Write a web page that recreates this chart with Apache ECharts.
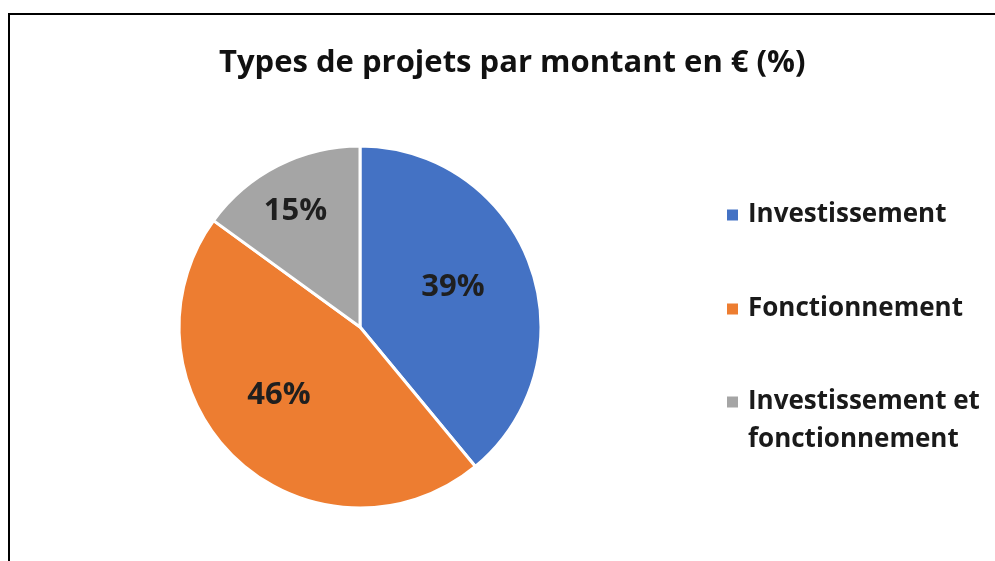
<!DOCTYPE html>
<html>
<head>
<meta charset="utf-8">
<script src="https://cdn.jsdelivr.net/npm/echarts@6/dist/echarts.min.js"></script>
<style>
html, body { margin: 0; padding: 0; background: #fff; }
#main { width: 995px; height: 561px; }
</style>
</head>
<body>
<div id="main"></div>
<script>
var categories = ['Investissement', 'Fonctionnement', 'Investissement et fonctionnement'];
var legendLabels = ['Investissement', 'Fonctionnement', 'Investissement et\nfonctionnement'];
var values = [39, 46, 15];
var colors = ['#4472C4', '#ED7D31', '#A5A5A5'];

var chart = echarts.init(document.getElementById('main'));

// Excel puts its labels a bit off the mid-radius, nudge them
var labelOffsets = [[5, -8], [-17, 0], [-22, -33]];

var pieData = [];
for (var i = 0; i < categories.length; i++) {
    pieData.push({
        name: categories[i],
        value: values[i],
        itemStyle: { color: colors[i] },
        label: { offset: labelOffsets[i] }
    });
}

// square at the top of a tall icon box, so it sits on the first text line
var topSquare = 'path://M0,0h11v11h-11z M0,49h0.01v-0.01z';

function legendFor(idx, top, icon, h) {
    return {
        orient: 'vertical',
        left: 727,
        top: top,
        padding: 0,
        icon: icon || 'rect',
        itemWidth: 11,
        itemHeight: h || 11,
        itemStyle: { borderWidth: 0 },
        selectedMode: false,
        data: [categories[idx]],
        formatter: function () { return legendLabels[idx]; },
        textStyle: {
            fontFamily: 'Open Sans',
            fontWeight: 'bold',
            fontSize: 26,
            lineHeight: 38,
            color: '#1a1a1a',
            padding: [0, 0, 0, 5]
        }
    };
}

var option = {
    backgroundColor: '#fff',
    animation: false,
    title: {
        text: 'Types de projets par montant en € (%)',
        left: 219,
        top: 48,
        padding: 0,
        textStyle: {
            fontFamily: 'Open Sans',
            fontWeight: 'bold',
            fontSize: 31,
            color: '#111'
        }
    },
    legend: [
        legendFor(0, 196),
        legendFor(1, 290),
        legendFor(2, 383, topSquare, 49)
    ],
    graphic: [{
        type: 'rect',
        shape: { x: 9, y: 14, width: 1100, height: 700 },
        style: { fill: 'none', stroke: '#000', lineWidth: 2 },
        silent: true
    }],
    series: [{
        type: 'pie',
        center: [360, 327],
        radius: [0, 181],
        startAngle: 90,
        clockwise: true,
        avoidLabelOverlap: false,
        emphasis: { disabled: true },
        itemStyle: { borderColor: '#fff', borderWidth: 3 },
        label: {
            show: true,
            position: 'inside',
            formatter: '{c}%',
            fontFamily: 'Open Sans',
            fontWeight: 'bold',
            fontSize: 31,
            color: '#1f1f1f'
        },
        labelLine: { show: false },
        data: pieData
    }]
};

chart.setOption(option);
</script>
</body>
</html>
